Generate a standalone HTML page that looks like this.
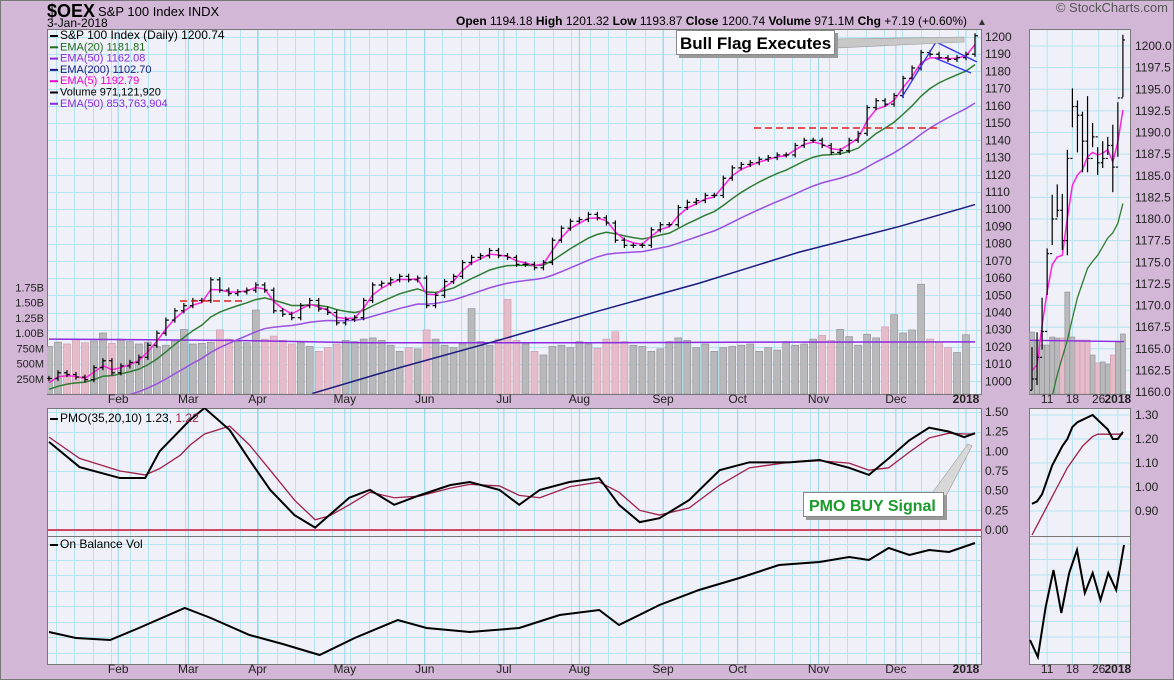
<!DOCTYPE html>
<html><head><meta charset="utf-8">
<style>
html,body{margin:0;padding:0;background:#D2B8D6;}
svg{display:block;font-family:"Liberation Sans",sans-serif;}
</style></head>
<body>
<svg id="chart" width="1174" height="680" viewBox="0 0 1174 680" xmlns="http://www.w3.org/2000/svg">
<rect x="0" y="0" width="1174" height="680" fill="#D2B8D6"/>
<rect x="0.5" y="0.5" width="1173" height="679" fill="none" stroke="#777"/>
<defs>
<clipPath id="cpP"><rect x="47" y="29" width="934" height="365"/></clipPath>
<clipPath id="cpM"><rect x="47" y="408" width="934" height="128"/></clipPath>
<clipPath id="cpO"><rect x="47" y="536" width="934" height="128"/></clipPath>
<clipPath id="cmP"><rect x="1029" y="29" width="101" height="365"/></clipPath>
<clipPath id="cmM"><rect x="1029" y="408" width="101" height="128"/></clipPath>
<clipPath id="cmO"><rect x="1029" y="536" width="101" height="128"/></clipPath>
</defs>
<g id="layer"></g>
<text x="47" y="17" font-size="18" font-weight="bold" fill="#000">$OEX</text>
<text x="98" y="16" font-size="13" fill="#000">S&amp;P 100 Index  INDX</text>
<text x="47" y="27" font-size="12" fill="#000">3-Jan-2018</text>
<text x="967" y="25" font-size="12" fill="#000" text-anchor="end"><tspan font-weight="bold">Open</tspan> 1194.18  <tspan font-weight="bold">High</tspan> 1201.32  <tspan font-weight="bold">Low</tspan> 1193.87  <tspan font-weight="bold">Close</tspan> 1200.74  <tspan font-weight="bold">Volume</tspan> 971.1M  <tspan font-weight="bold">Chg</tspan> +7.19 (+0.60%)</text>
<text x="977" y="25" font-size="10" fill="#333">▲</text>
<text x="1168" y="12" font-size="13" fill="#555" text-anchor="end">© StockCharts.com</text>
</svg>
<script>
// ---- main price data (2-day samples) ----
const closes = [1001.7,1005,1004,1002.5,1001,1008,1012,1005,1009,1011,1014,1021,1028,1035.6,1041,1044,1047,1047,1059,1053,1051,1052,1053,1056,1053,1041,1039,1037,1044,1047,1042,1040,1034,1036,1037,1047,1056,1057,1059,1061,1059,1060,1044,1050,1058,1061,1069,1072,1073,1076,1073,1072,1068,1068,1066,
1069,1082,1089,1093,1094,1097,1095,1092,1082,1079,1079,1079,1088,1091,1091,1101,1104,1105,1108,1108,1118,1124,1126,1127,1129,1130,1131.5,1131.5,1137,1140,1140,1137,1133,1134,1140,1144,1159,1163,1161,1166,1176,1182,1191,1190,1188,1187,1188,1190,1200.7];
const volumes = [780,850,820,900,840,870,1000,830,900,860,820,850,780,800,870,1060,820,830,850,1050,900,860,840,1377,900,950,880,820,840,780,700,760,820,880,860,900,920,880,800,700,760,740,1050,900,800,760,820,1400,860,800,900,1550,880,820,700,
640,780,800,760,860,820,750,900,1020,860,800,780,700,740,860,920,880,760,820,700,760,780,800,820,700,760,720,860,800,820,900,960,880,1060,940,800,980,920,1100,1300,1000,1050,1800,900,850,760,680,971];
const ema200Idx = [29.3,39,50.1,61.2,72.3,83.4,94.6,103];
const ema200Val = [993,1008,1024,1041,1057,1075,1090,1102.7];
const volEmaIdx = [0,20,35,60,80,103];
const volEmaVal = [900,880,840,840,850,854];
const priceTicks = [1000,1010,1020,1030,1040,1050,1060,1070,1080,1090,1100,1110,1120,1130,1140,1150,1160,1170,1180,1190,1200];
const volTicks = [250,500,750,1000,1250,1500,1750];
const volTickLabels = ["250M","500M","750M","1.00B","1.25B","1.50B","1.75B"];
const monthLabels = ["Feb","Mar","Apr","May","Jun","Jul","Aug","Sep","Oct","Nov","Dec","2018"];
const monthIdx = [7.7,15.5,23.2,32.9,41.8,50.6,59,68.3,76.6,85.6,94.2,102];
// PMO
const pmoIdx = [0,3.4,7.9,10.7,12.3,14.6,15.7,17.3,20.1,22.3,24.6,27.3,29.6,31.2,33.4,35.7,38.4,41.2,44.6,46.8,50.1,52.3,54.6,57.9,61.2,63.4,65.7,67.9,71.2,74.6,77.9,82.3,85.7,89,91.2,93.4,95.7,97.9,100.1,101.8,103];
const pmoLine = [1.12,0.80,0.66,0.66,1.00,1.27,1.40,1.55,1.27,0.89,0.51,0.19,0.03,0.19,0.41,0.51,0.32,0.44,0.57,0.61,0.51,0.32,0.51,0.61,0.66,0.32,0.10,0.15,0.38,0.76,0.86,0.86,0.89,0.79,0.70,0.91,1.14,1.30,1.25,1.18,1.23];
const pmoSignal = [1.18,0.91,0.75,0.70,0.78,0.95,1.08,1.22,1.32,1.08,0.76,0.38,0.13,0.18,0.32,0.48,0.41,0.43,0.53,0.58,0.56,0.44,0.41,0.55,0.61,0.48,0.25,0.19,0.28,0.57,0.79,0.86,0.88,0.85,0.76,0.79,0.99,1.17,1.23,1.22,1.22];
const pmoTicks = [0,0.25,0.5,0.75,1.0,1.25,1.5];
// OBV (billions, relative)
const obvIdx = [0,3,6.8,10,15.1,18,22.3,26,30.1,34,38.8,42,46.8,52.3,56.8,61.2,63.4,67.9,72.3,76.8,81.2,85.7,89,91.2,93.4,95.7,97.9,100.1,103];
const obvVal = [3.2,2.6,2.4,3.6,5.6,4.6,2.9,2.0,0.9,2.6,4.4,3.6,3.2,3.6,4.9,5.4,3.9,5.9,7.4,8.6,9.9,10.2,10.7,10.4,11.6,10.9,11.4,11.2,12.1];
// ---- mini (zoomed) panel ----
const mHigh = [1165.2,1166.9,1170.9,1176.6,1182.8,1184.0,1182.9,1188.0,1195.1,1193.7,1192.4,1194.2,1191.1,1188.3,1189.0,1189.5,1190.9,1193.5,1201.3];
const mLow = [1160.2,1160.8,1164.9,1171.2,1177.0,1180.2,1176.4,1175.8,1190.6,1187.7,1185.4,1185.4,1188.3,1185.1,1185.9,1187.4,1183.1,1187.2,1194.1];
const mClose = [1161.5,1164,1167,1176,1180,1181,1177.5,1187,1193,1192,1189,1187,1189.5,1186.5,1187,1188.5,1186,1194,1200.7];
const mEma5 = [1162.5,1163.1,1167.7,1171.6,1174.7,1175.6,1175.8,1180.1,1183.9,1185.1,1185.7,1187.2,1187.7,1187.4,1187.6,1188.0,1186.6,1188.9,1192.6];
const mEma20 = [1150,1153,1155,1157,1159.5,1162,1164,1166,1168.5,1170.9,1172.6,1174.3,1175.1,1175.8,1176.8,1177.8,1178.4,1179.5,1181.8];
const mVol = [1016,885,803,803,934,918,918,1672,934,885,885,885,639,508,525,492,639,852,984];
const mPmo = [0.93,0.94,0.97,1.03,1.09,1.13,1.17,1.20,1.25,1.27,1.28,1.29,1.30,1.28,1.26,1.24,1.20,1.20,1.23];
const mPmoSig = [0.80,0.84,0.88,0.92,0.96,1.00,1.04,1.08,1.11,1.14,1.17,1.19,1.21,1.22,1.22,1.22,1.22,1.22,1.22];
const mObv = [2.4,0.7,5.7,9.4,5.1,9.1,11.4,7.1,9.1,6.4,9.1,7.4,11.9];
const mPriceTicks = [1160,1162.5,1165,1167.5,1170,1172.5,1175,1177.5,1180,1182.5,1185,1187.5,1190,1192.5,1195,1197.5,1200];
const mPmoTicks = [0.9,1.0,1.1,1.2,1.3];
const mDayLabels = ["11","18","26","2018"];
const mDayIdx = [3,8,13.2,17];

const NS = "http://www.w3.org/2000/svg";
const root = document.getElementById('layer');
function mk(tag, attrs, parent){ const e=document.createElementNS(NS,tag); for(const k in attrs) e.setAttribute(k,attrs[k]); (parent||root).appendChild(e); return e; }

// axes
const N = closes.length;
const xi = i => 49 + i*(926/(N-1));
const yP = v => 37 + (1200-v)*1.722;
const yV = m => 394 - m*0.061;
const yM = v => 530 - v*78.7;
const yO = v => 664 - v*10;
const mx = i => 1032 + i*5.05;
const myP = v => 46 + (1200-v)*8.65;
const myM = v => 415 + (1.30-v)*240;

// panels
function panel(x,y,w,h,name){ const r=mk('rect',{x:x+0.5,y:y+0.5,width:w,height:h,fill:'#EFF0F8',stroke:'#777'});   return r; }
panel(47,29,934,365,'price-panel');
panel(47,408,934,128,'pmo-panel');
panel(47,536,934,128,'obv-panel');
panel(1029,29,101,365,'mini-price-panel');
panel(1029,408,101,128,'mini-pmo-panel');
panel(1029,536,101,128,'mini-obv-panel');

// grid
const grid = mk('g',{stroke:'#B5E3EE','stroke-width':1});


for(let x=56;x<980;x+=18.4){ for(const [a,b] of [[30,394],[409,536],[537,664]]){ const l=mk('line',{x1:Math.round(x)+0.5,x2:Math.round(x)+0.5,y1:a,y2:b},grid);   } }
for(const v of priceTicks){ const l=mk('line',{x1:48,x2:981,y1:Math.round(yP(v))+0.5,y2:Math.round(yP(v))+0.5},grid);   }
for(const v of pmoTicks){ const l=mk('line',{x1:48,x2:981,y1:Math.round(yM(v))+0.5,y2:Math.round(yM(v))+0.5},grid);   }
for(let y=544;y<664;y+=15.5){ const l=mk('line',{x1:48,x2:981,y1:Math.round(y)+0.5,y2:Math.round(y)+0.5},grid);   }
for(const i of monthIdx){ for(const [a,b] of [[30,394],[409,536],[537,664]]){ const l=mk('line',{x1:xi(i),x2:xi(i),y1:a,y2:b,stroke:'#9AD3E6'},grid);   } }
for(const v of mPriceTicks){ const l=mk('line',{x1:1030,x2:1130,y1:myP(v),y2:myP(v)},grid);   }
for(const v of mPmoTicks){ const l=mk('line',{x1:1030,x2:1130,y1:myM(v),y2:myM(v)},grid);   }
for(let y=544;y<664;y+=15.5){ const l=mk('line',{x1:1030,x2:1130,y1:y,y2:y},grid);   }
for(const i of mDayIdx){ for(const [a,b] of [[30,394],[409,536],[537,664]]){ const l=mk('line',{x1:mx(i),x2:mx(i),y1:a,y2:b},grid);   } }

// volume bars
const gv = mk('g',{'clip-path':'url(#cpP)'});


for(let i=0;i<N;i++){ if(volumes[i]===undefined) continue; const down = i>0 && closes[i]<closes[i-1];
  const b=mk('rect',{x:xi(i)-3.5,y:yV(volumes[i]),width:7,height:394-yV(volumes[i]),fill:down?'#E6BCCB':'#B9B9BC',stroke:down?'#C89AAA':'#8E8E92','stroke-width':0.6},gv);
    }
function poly(idx,vals,xf,yf,color,w,parent,name){ const p=mk('polyline',{points:vals.map((v,k)=>xf(idx?idx[k]:k)+','+yf(v)).join(' '),fill:'none',stroke:color,'stroke-width':w},parent);   return p; }
const gp = mk('g',{'clip-path':'url(#cpP)'});


poly(volEmaIdx,volEmaVal,xi,yV,'#8A2BE2',1.5,gp,'volume-ema50-line');
function ema(arr,alpha,seed){ const out=[]; let e=seed; for(const c of arr){ e=e+alpha*(c-e); out.push(e);} return out; }
poly(ema200Idx,ema200Val,xi,yP,'#1A1A80',1.5,gp,'ema200-line');
poly(null,ema(closes,2/26,975),xi,yP,'#9B4FE0',1.5,gp,'ema50-line');
poly(null,ema(closes,2/11,994),xi,yP,'#2E7D32',1.5,gp,'ema20-line');
poly(null,ema(closes,2/3.5,996),xi,yP,'#FF22DD',1.5,gp,'ema5-line');
for(let i=0;i<N;i++){ const prev=i>0?closes[i-1]:closes[0]; const hi=Math.max(prev,closes[i])+1.5, lo=Math.min(prev,closes[i])-1.5;
  const g=mk('g',{stroke:'#000','stroke-width':1.2},gp);  
  mk('line',{x1:xi(i),x2:xi(i),y1:yP(hi),y2:yP(lo)},g);
  mk('line',{x1:xi(i)-3,x2:xi(i),y1:yP(prev),y2:yP(prev)},g);
  mk('line',{x1:xi(i),x2:xi(i)+3,y1:yP(closes[i]),y2:yP(closes[i])},g); }

// annotations
const ann = mk('g',{});


let a;
a=mk('line',{x1:180,x2:245,y1:301,y2:301,stroke:'#E02020','stroke-width':1.5,'stroke-dasharray':'7,4'},ann);  
a=mk('line',{x1:754,x2:940,y1:128,y2:128,stroke:'#E02020','stroke-width':1.5,'stroke-dasharray':'7,4'},ann);  
a=mk('polyline',{points:'902,97 936,42 977,62',fill:'none',stroke:'#3333EE','stroke-width':1.3},ann);  
a=mk('line',{x1:935,x2:971,y1:58,y2:73,stroke:'#3333EE','stroke-width':1.3},ann);  
a=mk('polygon',{points:'835,39 964,37 964,42 835,48',fill:'#C8C8C8',stroke:'#999','stroke-width':0.6},ann);  
a=mk('rect',{x:679,y:33,width:159,height:25,fill:'#999'},ann);  
a=mk('rect',{x:676.5,y:30.5,width:158,height:24,fill:'#fff',stroke:'#888'},ann);  
a=mk('text',{x:680,y:49,'font-size':17,'font-weight':'bold',fill:'#000'},ann); a.textContent='Bull Flag Executes';  
a=mk('polygon',{points:'930,496 968,444 972,446 944,500',fill:'#D8D8D8',stroke:'#999','stroke-width':0.6},ann);  
a=mk('rect',{x:806,y:495,width:141,height:25,fill:'#999'},ann);  
a=mk('rect',{x:803.5,y:492.5,width:140,height:24,fill:'#fff',stroke:'#888'},ann);  
a=mk('text',{x:809,y:511,'font-size':16,'font-weight':'bold',fill:'#1A9A2A'},ann); a.textContent='PMO BUY Signal';  

// legend
const leg = [['S&P 100 Index (Daily) 1200.74','#000'],['EMA(20) 1181.81','#1E6B1E'],['EMA(50) 1162.08','#8A2BE2'],['EMA(200) 1102.70','#1A1A80'],['EMA(5) 1192.79','#EE00CC'],['Volume 971,121,920','#000'],['EMA(50) 853,763,904','#8A2BE2']];
leg.forEach((l,k)=>{ const y=39+k*11.3;
  const sw=mk('rect',{x:50,y:y-4,width:8,height:2,fill:l[1]});  
  const t=mk('text',{x:60,y:y,'font-size':k==0?12:11,fill:l[1]}); t.textContent=l[0];   });

// price axis labels
for(const v of priceTicks){ const t=mk('text',{x:985,y:yP(v)+4,'font-size':12,fill:'#222'}); t.textContent=v;   }
volTicks.forEach((v,k)=>{ const t=mk('text',{x:44,y:yV(v)+4,'font-size':11,fill:'#222','text-anchor':'end'}); t.textContent=volTickLabels[k];   });
monthLabels.forEach((m,k)=>{ for(const y of [403,673]){ const t=mk('text',{x:xi(monthIdx[k]),y:y,'font-size':12,'font-weight':m==='2018'?'bold':'normal',fill:'#222','text-anchor':'middle'}); t.textContent=m;   } });

// PMO
const gm = mk('g',{'clip-path':'url(#cpM)'});


a=mk('line',{x1:48,x2:981,y1:yM(0),y2:yM(0),stroke:'#D0103A','stroke-width':1.5},gm);  
poly(pmoIdx,pmoSignal,xi,yM,'#A0204A',1.3,gm,'pmo-signal-line');
poly(pmoIdx,pmoLine,xi,yM,'#000',2,gm,'pmo-line');
for(const v of pmoTicks){ const t=mk('text',{x:985,y:yM(v)+4,'font-size':12,fill:'#222'}); t.textContent=v.toFixed(2);   }
a=mk('rect',{x:50,y:418,width:8,height:2,fill:'#000'});  
a=mk('text',{x:60,y:422,'font-size':12,fill:'#000'}); a.innerHTML='PMO(35,20,10) 1.23, <tspan fill="#A0204A">1.22</tspan>';  

// OBV
const go = mk('g',{'clip-path':'url(#cpO)'});


poly(obvIdx,obvVal,xi,yO,'#000',2,go,'obv-line');
a=mk('rect',{x:50,y:544,width:8,height:2,fill:'#000'});  
a=mk('text',{x:60,y:548,'font-size':12,fill:'#000'}); a.textContent='On Balance Vol';  

// mini price
const mp = mk('g',{'clip-path':'url(#cmP)'});


mVol.forEach((v,i)=>{ const down = i>0 && mClose[i]<mClose[i-1];
  const b=mk('rect',{x:mx(i)-2.5,y:yV(v),width:5,height:394-yV(v),fill:down?'#E6BCCB':'#B9B9BC',stroke:down?'#C89AAA':'#8E8E92','stroke-width':0.6},mp);
    });
a=mk('line',{x1:1030,x2:1124,y1:yV(880),y2:yV(860),stroke:'#8A2BE2','stroke-width':1.3},mp);  
poly(null,mEma20,mx,myP,'#2E7D32',1.3,mp,'mini-ema20-line');
poly(null,mEma5,mx,myP,'#FF22DD',1.5,mp,'mini-ema5-line');
mHigh.forEach((h,i)=>{ const prev=i>0?mClose[i-1]:mLow[0];
  const g=mk('g',{stroke:'#000','stroke-width':1.2},mp);  
  mk('line',{x1:mx(i),x2:mx(i),y1:myP(h),y2:myP(mLow[i])},g);
  mk('line',{x1:mx(i)-2,x2:mx(i),y1:myP(prev),y2:myP(prev)},g);
  mk('line',{x1:mx(i),x2:mx(i)+2,y1:myP(mClose[i]),y2:myP(mClose[i])},g); });
for(const v of mPriceTicks){ const t=mk('text',{x:1135,y:myP(v)+4,'font-size':12,fill:'#222'}); t.textContent=v.toFixed(1);   }
mDayLabels.forEach((d,k)=>{ for(const y of [403,673]){ const t=mk('text',{x:mx(mDayIdx[k]),y:y,'font-size':12,'font-weight':d==='2018'?'bold':'normal',fill:'#222','text-anchor':'middle'}); t.textContent=d;   } });
// mini PMO
const mm = mk('g',{'clip-path':'url(#cmM)'});


poly(null,mPmoSig,mx,myM,'#A0204A',1.3,mm,'mini-pmo-signal');
poly(null,mPmo,mx,myM,'#000',2,mm,'mini-pmo-line');
for(const v of mPmoTicks){ const t=mk('text',{x:1135,y:myM(v)+4,'font-size':12,fill:'#222'}); t.textContent=v.toFixed(2);   }
// mini OBV
const mo = mk('g',{'clip-path':'url(#cmO)'});


const mObvX = k => 1030 + k*(94/(mObv.length-1));
poly(null,mObv,mObvX,yO,'#000',2,mo,'mini-obv-line');
</script>
</body></html>
